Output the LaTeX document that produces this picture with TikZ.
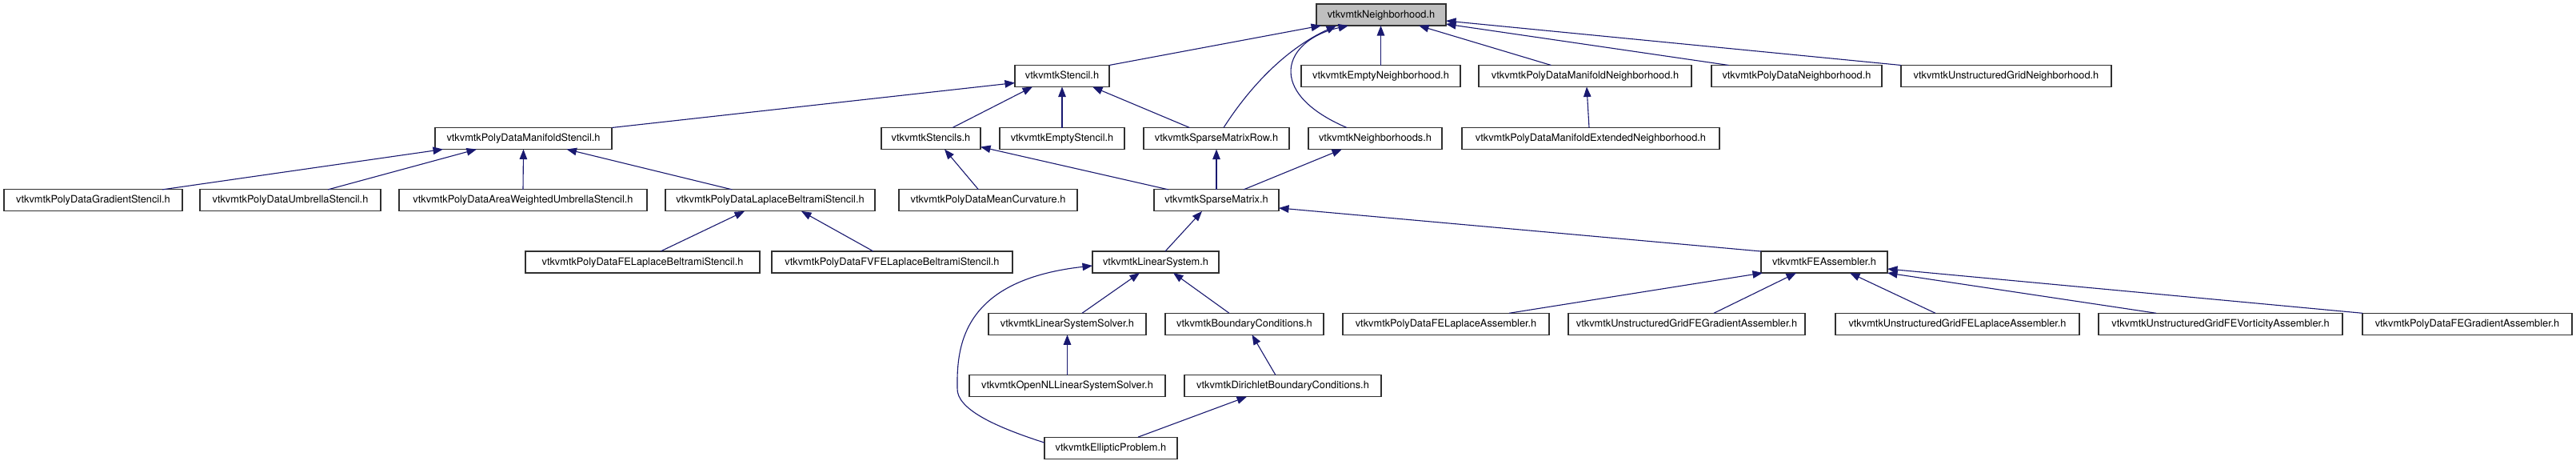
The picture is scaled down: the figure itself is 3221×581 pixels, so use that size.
\documentclass[tikz,border=0pt]{standalone}
\usepackage{fontspec}
\setmainfont{TeX Gyre Heros}
\usetikzlibrary{arrows.meta}
\definecolor{edgeblue}{HTML}{191970}
\definecolor{rootgray}{HTML}{BFBFBF}
\definecolor{boxline}{HTML}{303030}
\begin{document}
\begin{tikzpicture}[x=1pt,y=-1pt,
  box/.style={draw=boxline, line width=1.1pt, fill=white, minimum height=27pt,
    inner sep=0pt, outer sep=0pt, text height=9.5pt, text depth=2.5pt,
    font=\fontsize{12.8}{15}\selectfont, anchor=center},
  edge/.style={draw=edgeblue, line width=1.1pt, -{Triangle[length=12.5pt,width=9.5pt]}}]
\useasboundingbox[fill=white] (0,0) rectangle (3221,581);
% row 1
\node[box, fill=rootgray, minimum width=162pt] (nbh) at (1727,18.5) {vtkvmtkNeighborhood.h};
% row 2
\node[box, minimum width=118pt] (stencil) at (1328,95) {vtkvmtkStencil.h};
\node[box, minimum width=199pt] (emptynbh) at (1726.5,95) {vtkvmtkEmptyNeighborhood.h};
\node[box, minimum width=266pt] (pdmn) at (1982,95) {vtkvmtkPolyDataManifoldNeighborhood.h};
\node[box, minimum width=213pt] (pdn) at (2246.5,95) {vtkvmtkPolyDataNeighborhood.h};
\node[box, minimum width=263pt] (ugn) at (2508.5,95) {vtkvmtkUnstructuredGridNeighborhood.h};
% row 3
\node[box, minimum width=221pt] (pdms) at (654.5,173) {vtkvmtkPolyDataManifoldStencil.h};
\node[box, minimum width=124pt] (stencils) at (1164,173) {vtkvmtkStencils.h};
\node[box, minimum width=156pt] (emptystencil) at (1328,173) {vtkvmtkEmptyStencil.h};
\node[box, minimum width=182pt] (smrow) at (1521,173) {vtkvmtkSparseMatrixRow.h};
\node[box, minimum width=167pt] (nbhs) at (1719.5,173) {vtkvmtkNeighborhoods.h};
\node[box, minimum width=322pt] (pdmext) at (1989,173) {vtkvmtkPolyDataManifoldExtendedNeighborhood.h};
% row 4
\node[box, minimum width=223pt] (grad) at (116.5,250.4) {vtkvmtkPolyDataGradientStencil.h};
\node[box, minimum width=226pt] (umb) at (363,250.4) {vtkvmtkPolyDataUmbrellaStencil.h};
\node[box, minimum width=310pt] (area) at (654,250.4) {vtkvmtkPolyDataAreaWeightedUmbrellaStencil.h};
\node[box, minimum width=262pt] (lb) at (963,250.4) {vtkvmtkPolyDataLaplaceBeltramiStencil.h};
\node[box, minimum width=223pt] (meancurv) at (1235.5,250.4) {vtkvmtkPolyDataMeanCurvature.h};
\node[box, minimum width=156pt] (sm) at (1521,250.4) {vtkvmtkSparseMatrix.h};
% row 5
\node[box, minimum width=293pt] (felb) at (803.5,327.5) {vtkvmtkPolyDataFELaplaceBeltramiStencil.h};
\node[box, minimum width=301pt] (fvfe) at (1115.5,327.5) {vtkvmtkPolyDataFVFELaplaceBeltramiStencil.h};
\node[box, minimum width=158pt] (ls) at (1445,327.5) {vtkvmtkLinearSystem.h};
\node[box, minimum width=158pt] (fea) at (2281,327.5) {vtkvmtkFEAssembler.h};
% row 6
\node[box, minimum width=197pt] (lss) at (1334.5,404.8) {vtkvmtkLinearSystemSolver.h};
\node[box, minimum width=198pt] (bc) at (1556,404.8) {vtkvmtkBoundaryConditions.h};
\node[box, minimum width=258pt] (pdfela) at (1808,404.8) {vtkvmtkPolyDataFELaplaceAssembler.h};
\node[box, minimum width=296pt] (ugfeg) at (2109,404.8) {vtkvmtkUnstructuredGridFEGradientAssembler.h};
\node[box, minimum width=305pt] (ugfel) at (2447.5,404.8) {vtkvmtkUnstructuredGridFELaplaceAssembler.h};
\node[box, minimum width=305pt] (ugfev) at (2776.5,404.8) {vtkvmtkUnstructuredGridFEVorticityAssembler.h};
\node[box, minimum width=262pt] (pdfeg) at (3085,404.8) {vtkvmtkPolyDataFEGradientAssembler.h};
% row 7
\node[box, minimum width=245pt] (opennl) at (1334.5,482.2) {vtkvmtkOpenNLLinearSystemSolver.h};
\node[box, minimum width=246pt] (dirichlet) at (1604,482.2) {vtkvmtkDirichletBoundaryConditions.h};
% row 8
\node[box, minimum width=166pt] (elliptic) at (1389,559.6) {vtkvmtkEllipticProblem.h};
% edges
\draw[edge] (stencil.north east) -- ([xshift=6]nbh.south west);
\draw[edge] ([xshift=100]smrow.north west) .. controls (1565,105) and (1610,60) .. ([xshift=25]nbh.south west);
\draw[edge] ([xshift=48]nbhs.north west) .. controls (1580,115) and (1605,50) .. ([xshift=40]nbh.south west);
\draw[edge] (emptynbh.north) -- (emptynbh.north |- nbh.south);
\draw[edge] ([xshift=90.5]pdmn.north west) -- ([xshift=128]nbh.south west);
\draw[edge] ([xshift=21.5]pdn.north west) -- ([yshift=2]nbh.south east);
\draw[edge] (ugn.north west) -- ([yshift=6]nbh.south east);
\draw[edge] (pdms.north east) -- ([yshift=5]stencil.south west);
\draw[edge] ([xshift=89]stencils.north west) -- ([xshift=22]stencil.south west);
\draw[edge] (emptystencil.north) -- (stencil.south);
\draw[edge] ([xshift=57.5]smrow.north west) -- ([xshift=97]stencil.south west);
\draw[edge] ([xshift=159]pdmext.north west) -- ([xshift=135]pdmn.south west);
\draw[edge] ([xshift=198]grad.north west) -- ([xshift=10]pdms.south west);
\draw[edge] ([xshift=160]umb.north west) -- ([xshift=52]pdms.south west);
\draw[edge] (area.north) -- (pdms.south);
\draw[edge] ([xshift=83.5]lb.north west) -- ([xshift=164.5]pdms.south west);
\draw[edge] ([xshift=99.5]meancurv.north west) -- ([xshift=79]stencils.south west);
\draw[edge] ([xshift=18]sm.north west) -- ([yshift=3]stencils.south east);
\draw[edge] (sm.north) -- (smrow.south);
\draw[edge] ([xshift=112]sm.north west) -- ([xshift=42]nbhs.south west);
\draw[edge] ([xshift=169]felb.north west) -- ([xshift=99]lb.south west);
\draw[edge] ([xshift=127]fvfe.north west) -- ([xshift=170]lb.south west);
\draw[edge] ([xshift=91]ls.north west) -- ([xshift=60]sm.south west);
\draw[edge] (fea.north west) -- ([yshift=4]sm.south east);
\draw[edge] ([xshift=117]lss.north west) -- ([xshift=59]ls.south west);
\draw[edge] ([xshift=80]bc.north west) -- ([xshift=101]ls.south west);
\draw[edge] ([yshift=6.5]elliptic.west) .. controls (1240,532) and (1196,510) .. (1197,485) .. controls (1196,430) and (1205,350) .. ([yshift=-4.5]ls.west);
\draw[edge] ([xshift=208]pdfela.north west) -- ([xshift=2]fea.south west);
\draw[edge] ([xshift=182]ugfeg.north west) -- ([xshift=44]fea.south west);
\draw[edge] ([xshift=125]ugfel.north west) -- ([xshift=111]fea.south west);
\draw[edge] ([xshift=72]ugfev.north west) -- (fea.south east);
\draw[edge] (pdfeg.north west) -- ([yshift=5]fea.south east);
\draw[edge] (opennl.north) -- (lss.south);
\draw[edge] ([xshift=114]dirichlet.north west) -- ([xshift=108.5]bc.south west);
\draw[edge] ([xshift=117]elliptic.north west) -- ([xshift=78]dirichlet.south west);
\end{tikzpicture}
\end{document}
